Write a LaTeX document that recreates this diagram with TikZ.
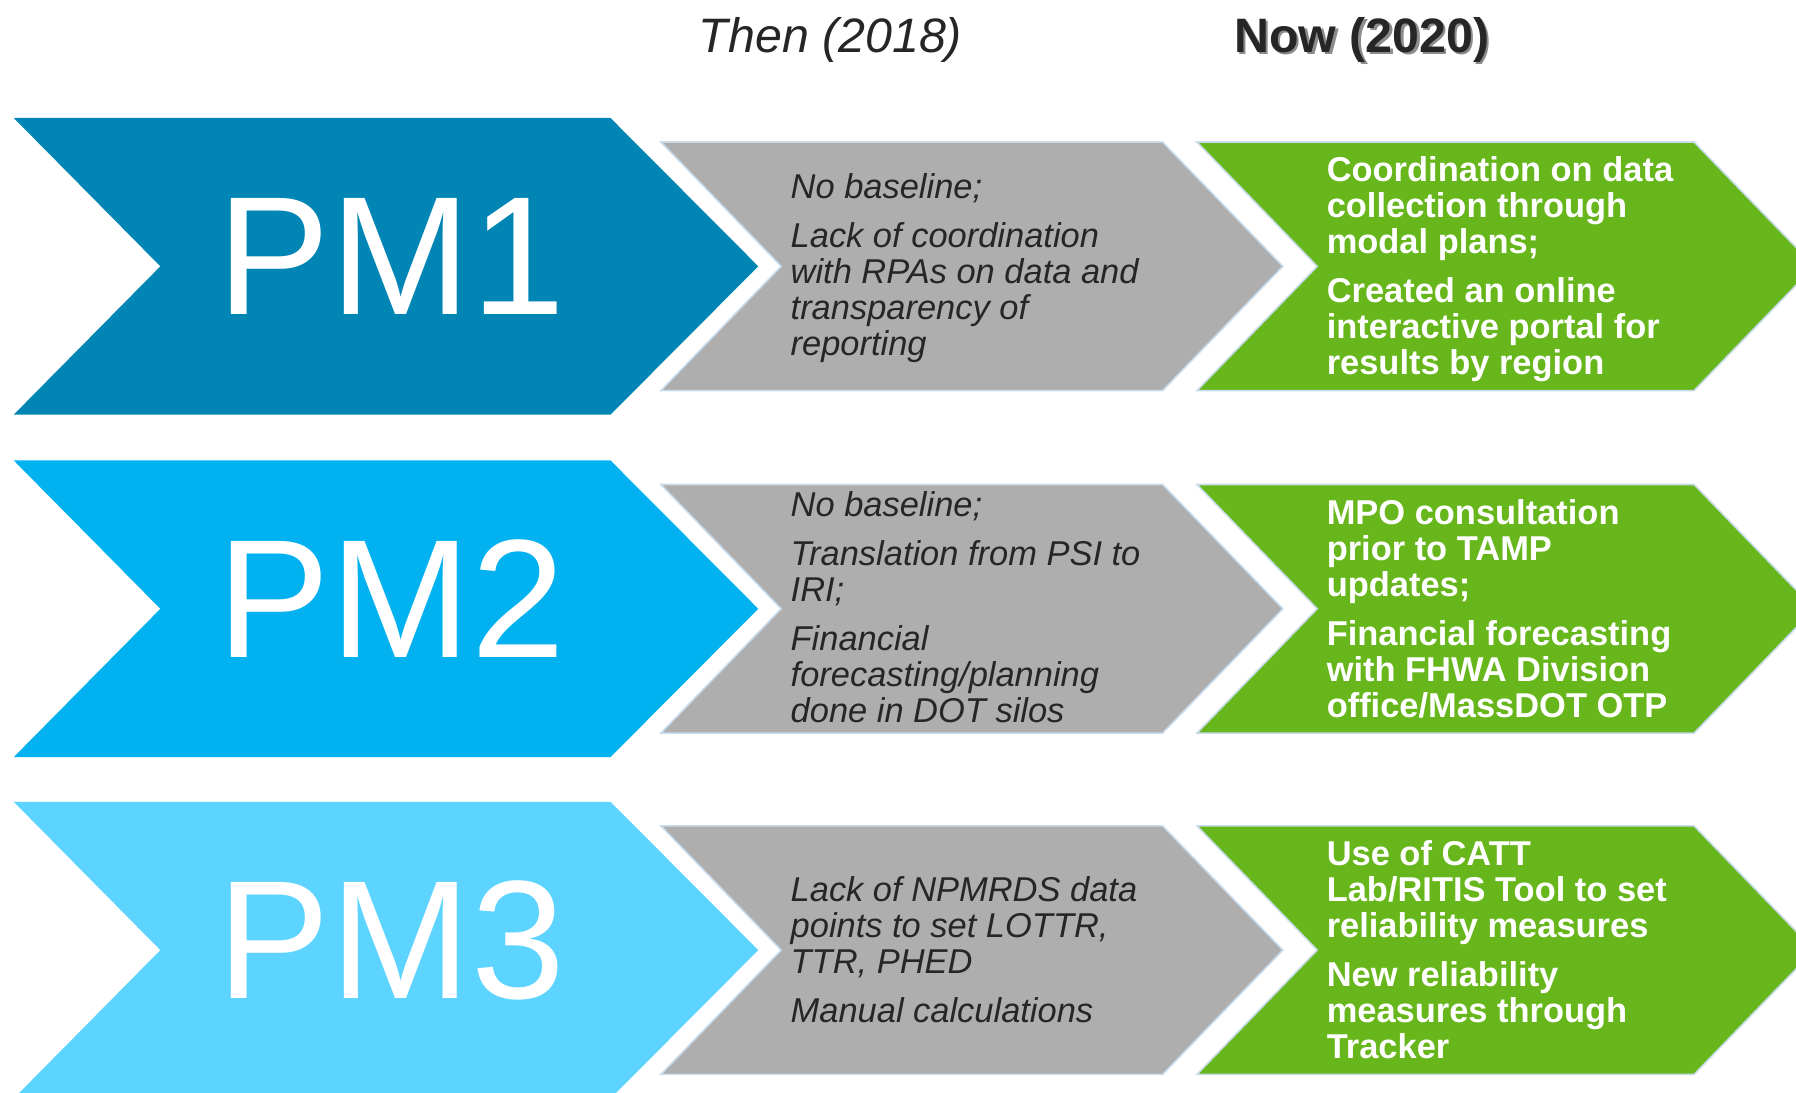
\documentclass[tikz,border=0pt]{standalone}
\usepackage{fontspec}
\setmainfont{Liberation Sans}

\begin{document}
\begin{tikzpicture}[
        x=0.0229cm, y=-0.0229cm,
        pm_label/.style={text=white, inner sep=0pt, anchor=west, font=\fontsize{96}{96}\selectfont},
        then_text/.style={text=mytext, inner sep=0pt, anchor=west, align=left, font=\fontsize{19.6}{20.4}\selectfont\itshape},
        now_text/.style={text=white, inner sep=0pt, anchor=west, align=left, font=\fontsize{19.6}{20.4}\selectfont\bfseries},
        head_text/.style={text=mytext, inner sep=0pt, anchor=base, font=\fontsize{27.5}{28}\selectfont},
        then_arrow/.style={fill=mygray, draw=myedge, line width=0.9pt, line join=miter},
        now_arrow/.style={fill=mygreen, draw=myedge, line width=0.9pt, line join=miter}
    ]

        \definecolor{pmone}{RGB}{0, 133, 181}
        \definecolor{pmtwo}{RGB}{2, 177, 240}
        \definecolor{pmthree}{RGB}{92, 212, 255}
        \definecolor{mygray}{RGB}{174, 174, 174}
        \definecolor{mygreen}{RGB}{103, 182, 28}
        \definecolor{myedge}{RGB}{200, 220, 236}
        \definecolor{mytext}{RGB}{38, 38, 38}

        \useasboundingbox[fill=white] (0,0) rectangle (1568,954);

        % column heads
        \node[head_text, font=\fontsize{27.5}{28}\selectfont\itshape] (then_head) at (725, 46) {Then (2018)};
        \node[head_text, text=black!45, font=\fontsize{27.5}{28}\selectfont\bfseries] (now_shadow) at (1191, 48) {Now (2020)};
        \node[head_text, font=\fontsize{27.5}{28}\selectfont\bfseries] (now_head) at (1189, 46) {Now (2020)};

        % row 1
        \fill[pmone] (12,103) -- (533,103) -- (662,232.5) -- (533,362) -- (12,362) -- (140,232.5) -- cycle;
        \draw[then_arrow] (577,124) -- (1015,124) -- (1120,232.5) -- (1015,341) -- (577,341) -- (682,232.5) -- cycle;
        \draw[now_arrow] (1045,124) -- (1479,124) -- (1584,232.5) -- (1479,341) -- (1045,341) -- (1150,232.5) -- cycle;

        \node[pm_label] (pm1) at (190, 224) {PM1};
        \node[then_text] (then1) at (690, 234) {
            No baseline;\\[7.6pt]
            Lack of coordination\\
            with RPAs on data and\\
            transparency of\\
            reporting
        };
        \node[now_text] (now1) at (1158, 235) {
            Coordination on data\\
            collection through\\
            modal plans;\\[7.6pt]
            Created an online\\
            interactive portal for\\
            results by region
        };

        % row 2
        \fill[pmtwo] (12,402) -- (533,402) -- (662,531.5) -- (533,661) -- (12,661) -- (140,531.5) -- cycle;
        \draw[then_arrow] (577,423) -- (1015,423) -- (1120,531.5) -- (1015,640) -- (577,640) -- (682,531.5) -- cycle;
        \draw[now_arrow] (1045,423) -- (1479,423) -- (1584,531.5) -- (1479,640) -- (1045,640) -- (1150,531.5) -- cycle;

        \node[pm_label] (pm2) at (190, 523) {PM2};
        \node[then_text] (then2) at (690, 530) {
            No baseline;\\[7.6pt]
            Translation from PSI to\\
            IRI;\\[7.6pt]
            Financial\\
            forecasting/planning\\
            done in DOT silos
        };
        \node[now_text] (now2) at (1158, 531.5) {
            MPO consultation\\
            prior to TAMP\\
            updates;\\[7.6pt]
            Financial forecasting\\
            with FHWA Division\\
            office/MassDOT OTP
        };

        % row 3
        \fill[pmthree] (12,700) -- (533,700) -- (662,829.5) -- (533,959) -- (12,959) -- (140,829.5) -- cycle;
        \draw[then_arrow] (577,721) -- (1015,721) -- (1120,829.5) -- (1015,938) -- (577,938) -- (682,829.5) -- cycle;
        \draw[now_arrow] (1045,721) -- (1479,721) -- (1584,829.5) -- (1479,938) -- (1045,938) -- (1150,829.5) -- cycle;

        \node[pm_label] (pm3) at (190, 821) {PM3};
        \node[then_text] (then3) at (690, 829) {
            Lack of NPMRDS data\\
            points to set LOTTR,\\
            TTR, PHED\\[7.6pt]
            Manual calculations
        };
        \node[now_text] (now3) at (1158, 829) {
            Use of CATT\\
            Lab/RITIS Tool to set\\
            reliability measures\\[7.6pt]
            New reliability\\
            measures through\\
            Tracker
        };
    \end{tikzpicture}
\end{document}
